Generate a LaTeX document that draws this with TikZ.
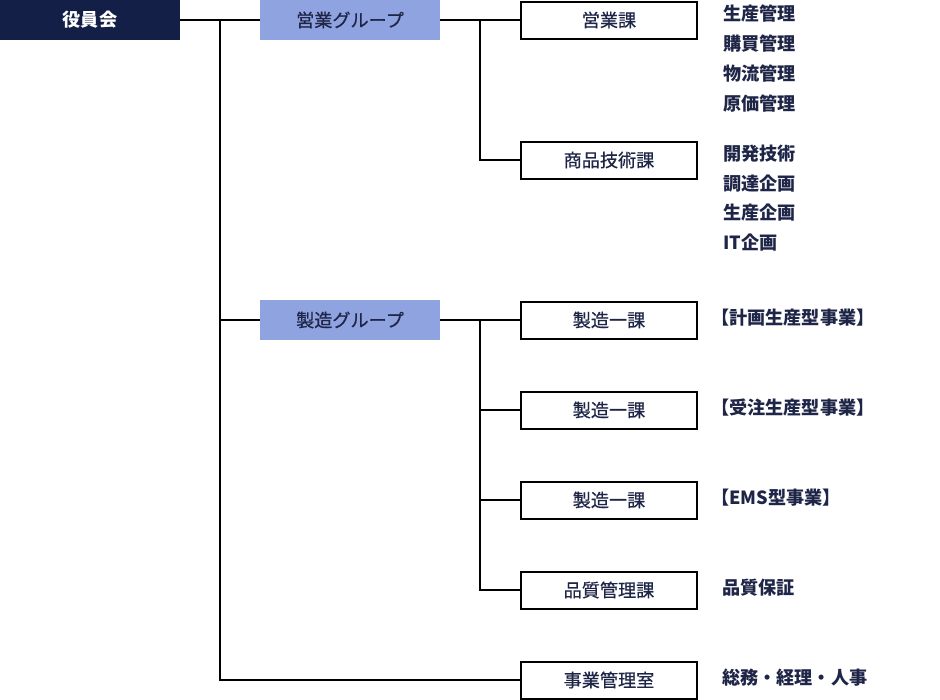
\documentclass[tikz,border=0pt]{standalone}
\usepackage{fontspec}
\newfontfamily\jp{Noto Sans CJK JP}
\newfontfamily\jpm[FakeBold=0.6]{Noto Sans CJK JP}
\definecolor{navy}{HTML}{141F48}
\definecolor{grp}{HTML}{8FA3E1}
\definecolor{txt}{HTML}{1E2547}
\begin{document}
\begin{tikzpicture}[x=0.75pt,y=-0.75pt,
  every node/.style={font=\jpm\fontsize{13.6pt}{15pt}\selectfont},
  topbox/.style={fill=navy, text=white, minimum width=135pt, minimum height=30pt, inner sep=0pt, font=\jp\bfseries\fontsize{13.6pt}{15pt}\selectfont},
  grpbox/.style={fill=grp, text=txt, minimum width=135pt, minimum height=30pt, inner sep=0pt},
  unitbox/.style={draw=black, line width=1.5pt, minimum width=132pt, minimum height=27.75pt, inner sep=0pt, text=txt},
  duty/.style={anchor=west, inner sep=0pt, text=txt, font=\jp\bfseries\fontsize{13.6pt}{15pt}\selectfont},
  conn/.style={line width=0.8pt, draw=black}]
\useasboundingbox (0,0) rectangle (940,700);
% level 0/1
\node[topbox] (yak) at (90,20) {役員会};
\node[grpbox] (eg) at (350,20) {営業グループ};
\node[grpbox] (sg) at (350,320) {製造グループ};
% units
\node[unitbox] (u1) at (609,20) {営業課};
\node[unitbox] (u2) at (609,160) {商品技術課};
\node[unitbox] (u3) at (609,320) {製造一課};
\node[unitbox] (u4) at (609,410) {製造一課};
\node[unitbox] (u5) at (609,500) {製造一課};
\node[unitbox] (u6) at (609,590) {品質管理課};
\node[unitbox] (u7) at (609,680) {事業管理室};
% connectors
\coordinate (t0) at (220,20);
\coordinate (b1) at (480,20);
\coordinate (b2) at (480,320);
\draw[conn] (yak.east) -- (eg.west);
\draw[conn] (t0) |- (u7.west);
\draw[conn] (t0 |- sg) -- (sg.west);
\draw[conn] (eg.east) -- (u1.west);
\draw[conn] (b1) |- (u2.west);
\draw[conn] (sg.east) -- (u3.west);
\draw[conn] (b2) |- (u6.west);
\draw[conn] (b2 |- u4) -- (u4.west);
\draw[conn] (b2 |- u5) -- (u5.west);
% duties
\node[duty] (d1) at (723,14) {生産管理};
\node[duty] (d2) at (723,44) {購買管理};
\node[duty] (d3) at (723,74) {物流管理};
\node[duty] (d4) at (723,104) {原価管理};
\node[duty] (d5) at (723,153.5) {開発技術};
\node[duty] (d6) at (723,183.5) {調達企画};
\node[duty] (d7) at (723,213) {生産企画};
\node[duty] (d8) at (723,243) {IT企画};
\node[duty] (d9) at (711,318) {【計画生産型事業】};
\node[duty] (d10) at (711,408) {【受注生産型事業】};
\node[duty] (d11) at (711,497.5) {【EMS型事業】};
\node[duty] (d12) at (722,587.5) {品質保証};
\node[duty] (d13) at (722,677.5) {総務・経理・人事};
\end{tikzpicture}
\end{document}
